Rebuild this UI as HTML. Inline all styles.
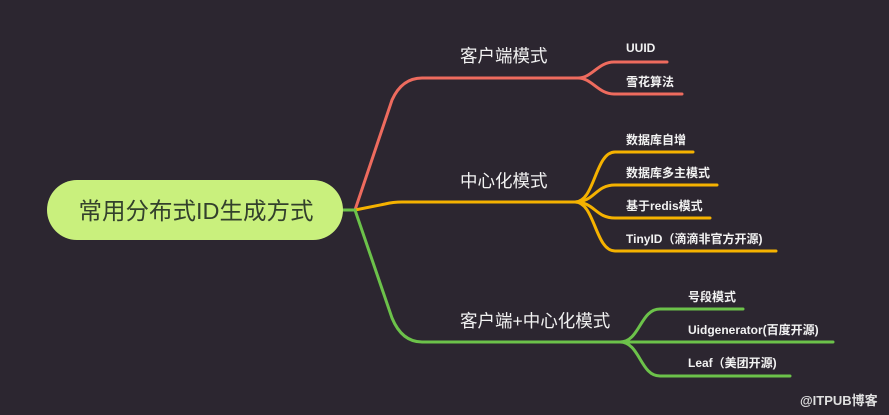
<!DOCTYPE html>
<html><head><meta charset="utf-8"><style>
html,body{margin:0;padding:0;background:#2c2630;}
svg{display:block}
text{font-family:"Liberation Sans","Noto Sans CJK SC",sans-serif;fill:#f2f2f2;}
</style></head><body>
<svg width="889" height="415" viewBox="0 0 889 415" xmlns="http://www.w3.org/2000/svg">
<rect width="889" height="415" fill="#2c2630"/>
<g fill="none" stroke-width="3" stroke-linecap="round">
<path d="M355 210 L392 100 Q402 78 422 78 L578 78" stroke="#ee6b5e"/>
<path d="M578 78 C592 78 598 62 614 62 L667 62" stroke="#ee6b5e"/>
<path d="M578 78 C592 78 598 94 614 94 L682 94" stroke="#ee6b5e"/>
<path d="M355 210 L385 204 Q393 202 402 202 L575 202" stroke="#f5b200"/>
<path d="M575 202 C595 202 595 152 615 152 L693 152" stroke="#f5b200"/>
<path d="M575 202 C595 202 595 185 615 185 L717 185" stroke="#f5b200"/>
<path d="M575 202 C595 202 595 218 615 218 L710 218" stroke="#f5b200"/>
<path d="M575 202 C595 202 595 251 615 251 L776 251" stroke="#f5b200"/>
<path d="M342 210 L355 210 L392 318 Q402 342 422 342 L620 342" stroke="#6cc24a"/>
<path d="M620 342 C640 342 640 309 660 309 L743 309" stroke="#6cc24a"/>
<path d="M620 342 L833 342" stroke="#6cc24a"/>
<path d="M620 342 C640 342 640 376 660 376 L790 376" stroke="#6cc24a"/>
</g>
<rect x="47" y="180" width="296" height="60" rx="30" fill="#c9f07d"/>
<text x="196" y="219" font-size="23.5" text-anchor="middle" style="fill:#33402c">常用分布式ID生成方式</text>
<text x="460" y="62" font-size="17.5">客户端模式</text>
<text x="460" y="187" font-size="17.5">中心化模式</text>
<text x="460" y="327" font-size="17.5">客户端+中心化模式</text>
<g font-size="12" style="font-weight:600">
<text x="626" y="52">UUID</text>
<text x="626" y="86">雪花算法</text>
<text x="626" y="144">数据库自增</text>
<text x="626" y="177">数据库多主模式</text>
<text x="626" y="210">基于redis模式</text>
<text x="626" y="243">TinyID（滴滴非官方开源)</text>
<text x="688" y="301">号段模式</text>
<text x="688" y="334">Uidgenerator(百度开源)</text>
<text x="688" y="367">Leaf（美团开源)</text>
</g>
<text x="800" y="405" font-size="13" font-weight="bold" style="fill:#e0e0e0">@ITPUB博客</text>
</svg>
</body></html>
